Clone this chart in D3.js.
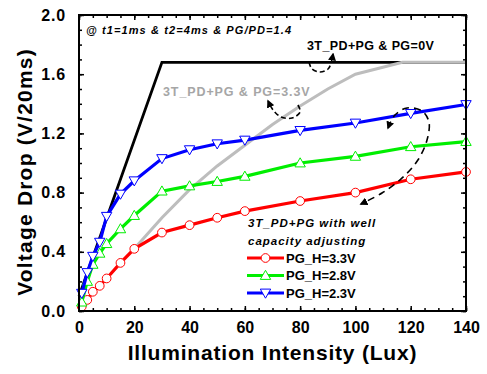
<!DOCTYPE html>
<html>
<head>
<meta charset="utf-8">
<script src="https://cdn.jsdelivr.net/npm/d3@7"></script>
<style>
  body { margin: 0; background: #fff; }
  text { font-family: "Liberation Sans", Arial, sans-serif; font-weight: bold; }
</style>
</head>
<body>
<div id="chart"></div>
<script>
// 1: DATA
const lux = [1, 3, 5, 7.5, 10, 15, 20, 30, 40, 50, 60, 80, 100, 120, 140];
const pgH33 = [0.03, 0.075, 0.13, 0.17, 0.22, 0.325, 0.42, 0.53, 0.58, 0.63, 0.675, 0.743, 0.80, 0.89, 0.94];
const pgH28 = [0.06, 0.2, 0.315, 0.39, 0.455, 0.555, 0.645, 0.81, 0.845, 0.875, 0.91, 1.0, 1.045, 1.11, 1.145];
const pgH23 = [0.12, 0.26, 0.37, 0.465, 0.64, 0.79, 0.88, 1.03, 1.09, 1.13, 1.155, 1.22, 1.27, 1.335, 1.395];

const pg0vX = [0, 30, 140];
const pg0vY = [0.1, 1.68, 1.68];
const pg33X = [20, 30, 40, 50, 60, 70, 80, 90, 100, 117, 140];
const pg33Y = [0.42, 0.63, 0.82, 0.98, 1.12, 1.26, 1.385, 1.50, 1.60, 1.68, 1.68];

const xTicks = [0, 20, 40, 60, 80, 100, 120, 140];
const yTicks = [0.0, 0.4, 0.8, 1.2, 1.6, 2.0];
const legendNames = ["PG_H=3.3V", "PG_H=2.8V", "PG_H=2.3V"];

// annotation curves (in data units)
const notePG0 = [[83.2, 1.682], [84.3, 1.635], [87.2, 1.615], [90.1, 1.635], [91.2, 1.676], [91.9, 1.736]];
const notePG33 = [[79.2, 1.392], [80, 1.345], [77.1, 1.304], [73.1, 1.311], [70.2, 1.358], [68.4, 1.419]];
const noteWell = [[111.8, 1.236], [114.3, 1.324], [118.7, 1.372], [124.1, 1.351], [126.6, 1.277],
                  [125.9, 1.155], [122.6, 1.02], [116.9, 0.899], [109.6, 0.797], [102, 0.723]];

// 2: LAYOUT
const W = 487, H = 374;
const margin = { top: 15, right: 21, bottom: 63, left: 79 };
const width = W - margin.left - margin.right;
const height = H - margin.top - margin.bottom;

const svgRoot = d3.select("#chart").append("svg")
    .attr("width", W)
    .attr("height", H);

svgRoot.append("defs").append("marker")
    .attr("id", "arrow")
    .attr("viewBox", "0 0 10 10")
    .attr("refX", 8).attr("refY", 5)
    .attr("markerWidth", 5).attr("markerHeight", 5)
    .attr("orient", "auto-start-reverse")
    .append("path")
    .attr("d", "M0,0L10,5L0,10z")
    .attr("fill", "#000");

const svg = svgRoot.append("g")
    .attr("transform", `translate(${margin.left},${margin.top})`);

// 3: SCALES
const x = d3.scaleLinear().domain([0, 140]).range([0, width]);
const y = d3.scaleLinear().domain([0, 2.0]).range([height, 0]);

// 4: AXES (ticks inward on all four sides)
const xMinor = d3.range(0, 141, 5);
const yMinor = d3.range(0, 2.01, 0.1);

function styleAxis(g) {
    g.select(".domain").remove();
    g.selectAll(".tick line").attr("stroke", "#000").attr("stroke-width", 1.5);
}

svg.append("g").attr("transform", `translate(0,${height})`)
    .call(d3.axisBottom(x).tickValues(xMinor).tickSize(-3).tickFormat(""))
    .call(styleAxis);
svg.append("g")
    .call(d3.axisTop(x).tickValues(xMinor).tickSize(-3).tickFormat(""))
    .call(styleAxis);
svg.append("g")
    .call(d3.axisLeft(y).tickValues(yMinor).tickSize(-3).tickFormat(""))
    .call(styleAxis);
svg.append("g").attr("transform", `translate(${width},0)`)
    .call(d3.axisRight(y).tickValues(yMinor).tickSize(-3).tickFormat(""))
    .call(styleAxis);

const xAxis = svg.append("g").attr("transform", `translate(0,${height})`)
    .call(d3.axisBottom(x).tickValues(xTicks).tickSize(-5).tickPadding(11).tickFormat(d3.format("d")))
    .call(styleAxis);
xAxis.selectAll(".tick text")
    .attr("fill", "#000").attr("font-size", 16).attr("font-family", null);

const yAxis = svg.append("g")
    .call(d3.axisLeft(y).tickValues(yTicks).tickSize(-5).tickPadding(13).tickFormat(d3.format(".1f")))
    .call(styleAxis);
yAxis.selectAll(".tick text")
    .attr("fill", "#000").attr("font-size", 16).attr("font-family", null)
    .attr("letter-spacing", 0.8);

svg.append("g")
    .call(d3.axisTop(x).tickValues(xTicks).tickSize(-5).tickFormat(""))
    .call(styleAxis);
svg.append("g").attr("transform", `translate(${width},0)`)
    .call(d3.axisRight(y).tickValues(yTicks).tickSize(-5).tickFormat(""))
    .call(styleAxis);

// 5: LINES
const line = d3.line().x(d => x(d[0])).y(d => y(d[1]));

svg.append("path")
    .datum(pg0vX.map((v, i) => [v, pg0vY[i]]))
    .attr("fill", "none").attr("stroke", "#000").attr("stroke-width", 2.8)
    .attr("d", line);

svg.append("path")
    .datum(pg33X.map((v, i) => [v, pg33Y[i]]))
    .attr("fill", "none").attr("stroke", "#bdbdbd").attr("stroke-width", 3)
    .attr("d", line);

const series = [
    { name: legendNames[0], values: pgH33, color: "#ff0000", shape: "circle" },
    { name: legendNames[1], values: pgH28, color: "#00ee00", shape: "up" },
    { name: legendNames[2], values: pgH23, color: "#0000ff", shape: "down" }
];

function markerPath(shape) {
    if (shape === "circle") return d3.symbol().type(d3.symbolCircle).size(60)();
    const s = 5.2;
    if (shape === "up") return `M0,${-s}L${s},${s * 0.75}L${-s},${s * 0.75}Z`;
    return `M0,${s}L${s},${-s * 0.75}L${-s},${-s * 0.75}Z`;
}

series.forEach(s => {
    const pts = lux.map((v, i) => [v, s.values[i]]);
    svg.append("path")
        .datum(pts)
        .attr("fill", "none").attr("stroke", s.color).attr("stroke-width", 3.2)
        .attr("d", line);
    svg.selectAll(null)
        .data(pts)
        .enter().append("path")
        .attr("transform", d => `translate(${x(d[0])},${y(d[1])})`)
        .attr("d", markerPath(s.shape))
        .attr("fill", "#fff").attr("stroke", s.color).attr("stroke-width", 1);
});

// frame
svg.append("rect")
    .attr("width", width).attr("height", height)
    .attr("fill", "none").attr("stroke", "#000").attr("stroke-width", 2);

// 6: ANNOTATIONS
const noteLine = d3.line().x(d => x(d[0])).y(d => y(d[1])).curve(d3.curveCatmullRom);

svg.append("path").datum(notePG0)
    .attr("fill", "none").attr("stroke", "#000").attr("stroke-width", 1.6)
    .attr("stroke-dasharray", "5,3").attr("marker-end", "url(#arrow)")
    .attr("d", noteLine);

svg.append("path").datum(notePG33)
    .attr("fill", "none").attr("stroke", "#000").attr("stroke-width", 1.6)
    .attr("stroke-dasharray", "5,3").attr("marker-end", "url(#arrow)")
    .attr("d", noteLine);

svg.append("path").datum(noteWell)
    .attr("fill", "none").attr("stroke", "#000").attr("stroke-width", 1.6)
    .attr("stroke-dasharray", "7,5")
    .attr("marker-start", "url(#arrow)").attr("marker-end", "url(#arrow)")
    .attr("d", noteLine);

svgRoot.append("text")
    .attr("x", 86).attr("y", 34)
    .attr("font-size", 11).attr("font-style", "italic").attr("letter-spacing", 1.1)
    .text("@ t1=1ms & t2=4ms & PG/PD=1.4");

svgRoot.append("text")
    .attr("x", 307).attr("y", 50)
    .attr("font-size", 12.5).attr("letter-spacing", 0.4)
    .text("3T_PD+PG & PG=0V");

svgRoot.append("text")
    .attr("x", 163).attr("y", 96)
    .attr("font-size", 12.5).attr("letter-spacing", 0.9).attr("fill", "#a6a6a6")
    .text("3T_PD+PG & PG=3.3V");

// 7: LEGEND
svgRoot.append("text")
    .attr("x", 248).attr("y", 227)
    .attr("font-size", 11.5).attr("font-style", "italic").attr("letter-spacing", 1)
    .text("3T_PD+PG with well");
svgRoot.append("text")
    .attr("x", 248).attr("y", 245)
    .attr("font-size", 11.5).attr("font-style", "italic").attr("letter-spacing", 1)
    .text("capacity adjusting");

const legend = svgRoot.selectAll(".legend")
    .data(series)
    .enter().append("g")
    .attr("class", "legend")
    .attr("transform", (d, i) => `translate(247,${258 + i * 17.5})`);

legend.append("line")
    .attr("x1", 0).attr("x2", 37)
    .attr("stroke", d => d.color).attr("stroke-width", 3.2);
legend.append("path")
    .attr("transform", "translate(18.5,0)")
    .attr("d", d => markerPath(d.shape))
    .attr("fill", "#fff").attr("stroke", d => d.color).attr("stroke-width", 1);
legend.append("text")
    .attr("x", 39).attr("dy", "0.36em")
    .attr("font-size", 13)
    .text(d => d.name);

// 8: AXIS TITLES
svgRoot.append("text")
    .attr("x", margin.left + width / 2).attr("y", 360)
    .attr("text-anchor", "middle")
    .attr("font-size", 21).attr("letter-spacing", 0.8)
    .text("Illumination Intensity (Lux)");

svgRoot.append("text")
    .attr("transform", "translate(32,172) rotate(-90)")
    .attr("text-anchor", "middle")
    .attr("font-size", 21).attr("letter-spacing", 1.2)
    .text("Voltage Drop (V/20ms)");
</script>
</body>
</html>
